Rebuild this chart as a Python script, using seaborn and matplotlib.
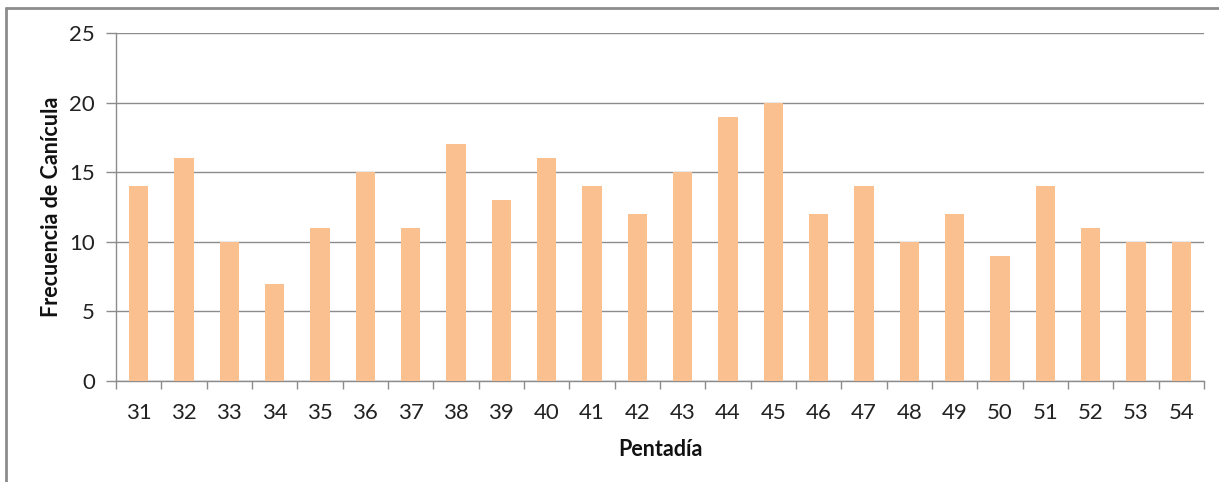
import matplotlib
matplotlib.use("Agg")
import matplotlib.pyplot as plt
import seaborn as sns
import pandas as pd
from matplotlib.lines import Line2D

categories = [str(i) for i in range(31, 55)]
values = [14, 16, 10, 7, 11, 15, 11, 17, 13, 16, 14, 12, 15, 19, 20, 12, 14, 10, 12, 9, 14, 11, 10, 10]
yticks = [0, 5, 10, 15, 20, 25]

sns.set_theme(style="white")
plt.rcParams['font.family'] = ['Lato', 'DejaVu Sans']

df = pd.DataFrame({"Pentadía": categories, "Frecuencia": values})

fig = plt.figure(figsize=(12.19, 4.82), dpi=100)
ax = fig.add_axes([116/1219, 1-381/482, (1204-116)/1219, (381-33)/482])

sns.barplot(data=df, x="Pentadía", y="Frecuencia", color="#FAC090", saturation=1,
            width=0.42, ax=ax, zorder=3, edgecolor="none", linewidth=0)

ax.set_ylim(0, 25)
ax.set_xlim(-0.5, len(categories) - 0.5)
ax.set_yticks(yticks)
ax.yaxis.grid(True, color="#8C8C8C", linewidth=1, zorder=0)
ax.set_axisbelow(True)
for s in ["top", "right"]:
    ax.spines[s].set_visible(False)
for s in ["left", "bottom"]:
    ax.spines[s].set_color("#8C8C8C")
    ax.spines[s].set_linewidth(1)

# category boundary ticks
ax.set_xticks([i - 0.5 for i in range(len(categories) + 1)], minor=True)
ax.tick_params(axis="x", which="minor", bottom=True, length=6, color="#8C8C8C", width=1)
ax.tick_params(axis="x", which="major", bottom=False, labelsize=16, colors="#222222", pad=10)
ax.tick_params(axis="y", which="major", left=True, length=7, color="#8C8C8C", width=1,
               labelsize=16, colors="#222222", pad=8)

ax.set_xlabel("Pentadía", fontsize=15.5, fontweight="bold", color="#111111", labelpad=11)
ax.set_ylabel("Frecuencia de Canícula", fontsize=15.5, fontweight="bold", color="#111111", labelpad=5)

# outer frame (left and top only)
fig.add_artist(Line2D([6/1219, 6/1219], [0, 1-8/482], color="#8C8C8C", linewidth=2, transform=fig.transFigure))
fig.add_artist(Line2D([6/1219, 1], [1-8/482, 1-8/482], color="#8C8C8C", linewidth=2, transform=fig.transFigure))

fig.savefig("out.png", dpi=100)
